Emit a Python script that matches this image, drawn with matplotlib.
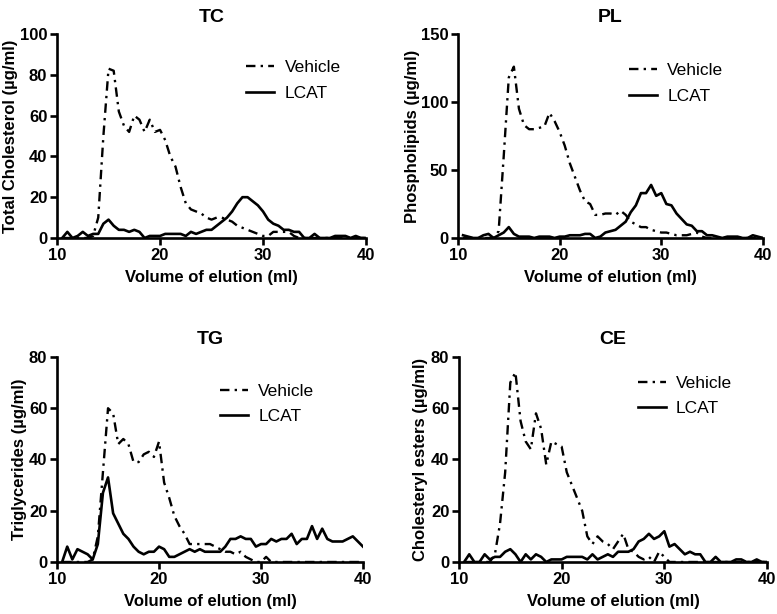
import matplotlib.pyplot as plt
import numpy as np

plt.rcParams['font.family'] = ['Liberation Sans', 'DejaVu Sans']

# elution volume (ml), fractions every 0.5 ml
volume = np.arange(10.5, 40.01, 0.5)

# TC
tc_vehicle = [0, 0, 0, 0, 0, 0, 1, 10, 50, 83, 82, 62, 55, 52, 60, 58, 52, 58, 52,
              53, 48, 40, 35, 25, 17, 14, 13, 12, 10, 9, 10, 10, 9, 8, 6, 5, 4, 3, 2,
              1, 1, 3, 3, 3, 3, 1, 0, 0, 0, 0, 0, 0, 0, 0, 0, 0, 0, 0, 0, 0]
tc_lcat = [0, 3, 0, 1, 3, 1, 2, 2, 7, 9, 6, 4, 4, 3, 4, 3, 0, 1, 1, 1,
           2, 2, 2, 2, 1, 3, 2, 3, 4, 4, 6, 8, 10, 13, 17, 20, 20, 18, 16, 13,
           9, 7, 6, 4, 4, 3, 3, 0, 0, 2, 0, 0, 0, 1, 1, 1, 0, 1, 0, 0]

# PL
pl_vehicle = [0, 0, 0, 0, 0, 0, 0, 5, 60, 118, 126, 95, 83, 80, 80, 81, 82, 92, 86, 78,
              68, 55, 45, 35, 27, 25, 17, 17, 18, 18, 17, 20, 17, 12, 10, 8, 8, 6, 5, 4,
              4, 3, 2, 2, 2, 3, 4, 1, 0, 0, 0, 0, 0, 0, 0, 0, 0, 0, 0, 0]
pl_lcat = [2, 1, 0, 0, 2, 3, 0, 2, 4, 8, 3, 1, 1, 1, 0, 1, 1, 1, 0, 1,
           1, 2, 2, 2, 3, 3, 0, 1, 4, 5, 6, 9, 12, 19, 24, 33, 33, 39, 31, 33,
           25, 24, 18, 14, 10, 9, 5, 5, 2, 2, 1, 0, 1, 1, 1, 0, 0, 2, 1, 0]

# TG
tg_vehicle = [0, 0, 0, 0, 0, 0, 1, 10, 35, 60, 58, 46, 48, 46, 39, 39, 42, 43, 41, 47,
              31, 25, 18, 14, 11, 7, 7, 7, 7, 7, 6, 5, 4, 4, 3, 4, 2, 1, 0, 0,
              2, 0, 0, 0, 0, 0, 0, 0, 0, 0, 0, 0, 0, 0, 0, 0, 0, 0, 0, 0]
tg_lcat = [0, 6, 1, 5, 4, 3, 1, 7, 27, 33, 19, 15, 11, 9, 6, 4, 3, 4, 4, 6,
           5, 2, 2, 3, 4, 5, 4, 5, 4, 4, 4, 4, 6, 9, 9, 10, 9, 9, 6, 7,
           7, 9, 8, 9, 9, 11, 7, 9, 9, 14, 9, 13, 9, 8, 8, 8, 9, 10, 8, 6]

# CE
ce_vehicle = [0, 0, 0, 0, 0, 0, 3, 15, 35, 70, 74, 55, 47, 44, 58, 52, 38, 47, 46, 45,
              35, 30, 25, 20, 10, 7, 10, 8, 7, 5, 8, 11, 5, 4, 2, 1, 2, 0, 4, 2,
              0, 0, 0, 0, 0, 0, 0, 0, 0, 0, 0, 0, 0, 0, 0, 0, 0, 0, 0, 0]
ce_lcat = [0, 3, 0, 0, 3, 1, 2, 2, 4, 5, 3, 0, 3, 1, 3, 2, 0, 1, 1, 1,
           2, 2, 2, 2, 1, 3, 1, 2, 3, 2, 4, 4, 4, 5, 8, 9, 11, 9, 10, 12,
           6, 7, 5, 3, 4, 3, 3, 0, 0, 2, 0, 0, 0, 1, 1, 0, 0, 1, 0, 0]

# title, y label, series, y max, y ticks, axes rect, y-label x, legend anchor
panels = [
    ('TC', 'Total Cholesterol (µg/ml)', tc_vehicle, tc_lcat, 100, [0, 20, 40, 60, 80, 100],
     (0.0734, 0.6124, 0.3977, 0.3322), -0.125, (0.562, 0.773)),
    ('PL', 'Phospholipids (µg/ml)', pl_vehicle, pl_lcat, 150, [0, 50, 100, 150],
     (0.5894, 0.6124, 0.3925, 0.3322), -0.125, (0.510, 0.758)),
    ('TG', 'Triglycerides (µg/ml)', tg_vehicle, tg_lcat, 80, [0, 20, 40, 60, 80],
     (0.0734, 0.0847, 0.3938, 0.3339), -0.097, (0.482, 0.77)),
    ('CE', 'Cholesteryl esters (µg/ml)', ce_vehicle, ce_lcat, 80, [0, 20, 40, 60, 80],
     (0.5907, 0.0847, 0.3964, 0.3339), -0.10, (0.530, 0.81)),
]

fig = plt.figure(figsize=(7.77, 6.14), dpi=100)

for title, ylabel, veh, lcat, ymax, yticks, pos, ylab_x, leg_xy in panels:
    ax = fig.add_axes(pos)
    ax.plot(volume, veh, color='black', lw=1.7, linestyle=(0, (4, 2.2, 1, 2.2)),
            label='Vehicle')
    ax.plot(volume, lcat, color='black', lw=1.9, label='LCAT')
    ax.set_xlim(10, 40)
    ax.set_ylim(0, ymax)
    ax.set_xticks([10, 20, 30, 40])
    ax.set_yticks(yticks)
    for side in ['top', 'right']:
        ax.spines[side].set_visible(False)
    for side in ['left', 'bottom']:
        ax.spines[side].set_linewidth(1.9)
    ax.tick_params(width=1.9, length=5, labelsize=12, pad=2)
    for lab in ax.get_xticklabels() + ax.get_yticklabels():
        lab.set_fontweight('bold')
    ax.set_title(title, fontsize=14, fontweight='bold', pad=9)
    ax.set_ylabel(ylabel, fontsize=12, fontweight='bold')
    ax.yaxis.set_label_coords(ylab_x, 0.5)
    ax.set_xlabel('Volume of elution (ml)', fontsize=12, fontweight='bold', labelpad=5)
    ax.legend(loc='center left', bbox_to_anchor=leg_xy, frameon=False,
              fontsize=12.5, handlelength=1.6, labelspacing=0.6, handletextpad=0.6)

fig.savefig('out.png', dpi=100)
